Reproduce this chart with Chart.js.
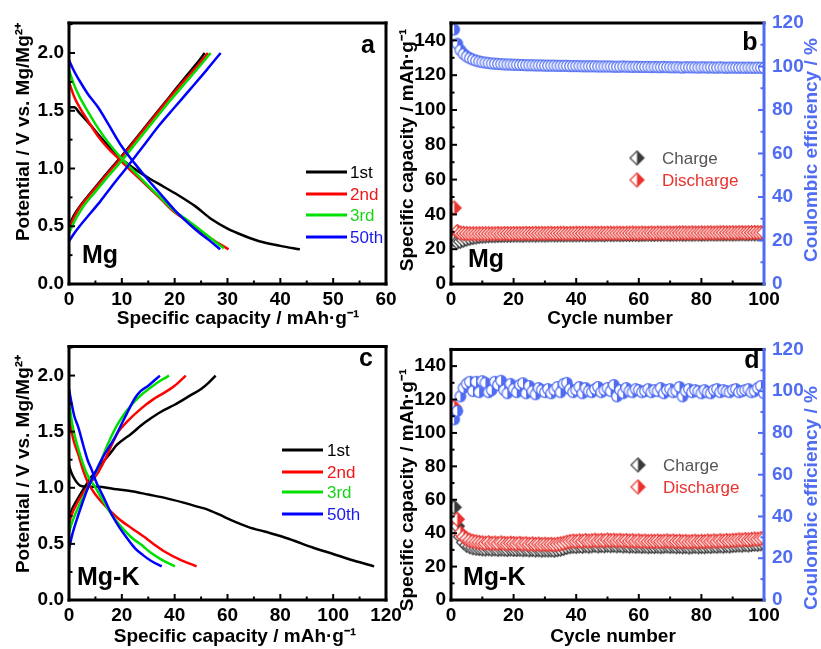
<!DOCTYPE html>
<html>
<head>
<meta charset="utf-8">
<script src="https://cdn.jsdelivr.net/npm/chart.js@4.4.1/dist/chart.umd.min.js"></script>
<style>
  body { margin: 0; background: #fff; width: 821px; height: 649px; position: relative; overflow: hidden; }
  canvas { position: absolute; }
</style>
</head>
<body>
<canvas id="chartA" width="410" height="330" style="left:0;top:0;width:410px;height:330px"></canvas>
<canvas id="chartB" width="426" height="330" style="left:395px;top:0;width:426px;height:330px"></canvas>
<canvas id="chartC" width="410" height="319" style="left:0;top:330px;width:410px;height:319px"></canvas>
<canvas id="chartD" width="426" height="319" style="left:395px;top:330px;width:426px;height:319px"></canvas>
<script>
// ---- data: galvanostatic curves, [capacity mAh/g, potential V] ----
const curveLabels = ['1st', '2nd', '3rd', '50th'];

const mgCharge1 = [[0,0.50],[1,0.60],[2,0.67],[3,0.73],[5,0.84],[7,0.95],[10,1.11],[13,1.28],[16,1.45],[19,1.62],[22,1.79],[24,1.90],[25.7,2.0]];
const mgCharge2 = [[0,0.48],[1,0.58],[2,0.66],[3,0.72],[5,0.83],[7,0.94],[10,1.10],[13,1.27],[16,1.44],[19,1.61],[22,1.77],[24.5,1.90],[26.3,2.0]];
const mgCharge3 = [[0,0.44],[1,0.54],[2,0.62],[3,0.69],[5,0.80],[7,0.91],[10,1.07],[13,1.24],[16,1.41],[19,1.58],[22,1.74],[24.8,1.89],[26.8,2.0]];
const mgCharge50 = [[0,0.37],[1,0.44],[2,0.50],[4,0.61],[6,0.72],[8,0.84],[10.6,0.99],[14,1.19],[17,1.37],[20,1.53],[23,1.69],[26,1.85],[28.7,2.0]];
const mgDis1 = [[0,1.53],[1,1.53],[2,1.48],[4,1.38],[6,1.27],[8,1.17],[10,1.08],[12,1.01],[15,0.92],[18,0.84],[21,0.76],[24,0.67],[27,0.56],[30,0.48],[33,0.42],[36,0.37],[40,0.33],[43.7,0.30]];
const mgDis2 = [[0,1.75],[1,1.62],[2,1.53],[3.5,1.42],[5.5,1.28],[7.5,1.17],[9.3,1.09],[12,0.97],[15,0.84],[17.5,0.73],[20,0.62],[22.5,0.54],[24.5,0.47],[27,0.39],[30.2,0.30]];
const mgDis3 = [[0,1.85],[1,1.72],[2,1.62],[3.5,1.50],[5.5,1.35],[7.5,1.22],[9.5,1.11],[12,0.99],[15,0.85],[17.5,0.74],[20,0.63],[22.5,0.55],[24.5,0.48],[27,0.39],[29.3,0.31]];
const mgDis50 = [[0,1.94],[1,1.84],[2,1.76],[3.5,1.65],[5.5,1.53],[7.5,1.38],[10,1.19],[12.5,1.04],[15,0.90],[17.5,0.77],[20,0.64],[22.5,0.53],[24.5,0.45],[26.5,0.38],[28.6,0.30]];

const mgkCharge1 = [[0,0.72],[1,0.80],[3,0.89],[5,0.97],[8.6,1.10],[11,1.17],[13.6,1.25],[16,1.32],[18,1.38],[20,1.42],[23.5,1.48],[27.5,1.56],[31,1.62],[35,1.68],[40,1.74],[46.4,1.83],[50,1.88],[53,1.94],[55.5,2.0]];
const mgkCharge2 = [[0,0.68],[1,0.76],[3,0.86],[5,0.94],[8,1.04],[11.1,1.14],[14,1.27],[16.5,1.40],[18.7,1.50],[22,1.59],[27.5,1.71],[32,1.79],[36.3,1.85],[40,1.91],[44.2,2.0]];
const mgkCharge3 = [[0,0.60],[1,0.68],[3,0.80],[5,0.90],[8,1.04],[11,1.18],[14.9,1.40],[18,1.55],[21,1.66],[23.7,1.74],[27,1.82],[31.3,1.90],[35,1.96],[37.9,2.0]];
const mgkCharge50 = [[0,0.45],[1,0.56],[3,0.72],[5,0.86],[7,0.99],[9.8,1.13],[13,1.28],[17.4,1.45],[21,1.62],[25,1.80],[27,1.86],[30,1.91],[34.4,2.0]];
const mgkDis1 = [[0,1.20],[1,1.13],[2.3,1.07],[4.2,1.02],[7,1.01],[11,1.01],[17,0.99],[23.7,0.97],[30,0.94],[36.3,0.91],[43,0.87],[48.9,0.83],[52,0.81],[57,0.76],[61.6,0.71],[68,0.65],[74,0.61],[80,0.57],[85,0.53],[92,0.47],[100,0.41],[108,0.35],[115.5,0.30]];
const mgkDis2 = [[0,1.65],[1,1.50],[2,1.40],[3.5,1.30],[5,1.18],[7.3,1.04],[10,0.94],[12.5,0.87],[14.9,0.81],[19,0.72],[23.7,0.64],[28,0.57],[32,0.50],[36.3,0.43],[42,0.36],[48.3,0.30]];
const mgkDis3 = [[0,1.77],[1,1.60],[2,1.48],[3.5,1.35],[5.5,1.20],[7.5,1.09],[9.8,1.01],[12,0.92],[14.5,0.82],[17.4,0.72],[21,0.62],[24,0.55],[27.5,0.49],[31,0.42],[35,0.36],[40.1,0.30]];
const mgkDis50 = [[0,1.88],[1,1.75],[2,1.64],[3.5,1.54],[5.5,1.37],[7,1.25],[8.6,1.16],[10.5,1.04],[13,0.92],[16.2,0.76],[19,0.65],[22,0.55],[25,0.46],[28,0.40],[31,0.35],[35.1,0.30]];

// ---- data: cycling, cycles 1..100 ----
const cycles = Array.from({ length: 100 }, (_, i) => i + 1);

const chargeMg = [
  25.5,24.0,24.5,25.2,25.8,26.3,26.7,27.0,27.3,27.5,
  27.6,27.7,27.8,27.8,27.9,27.9,28.0,28.0,28.0,28.1,
  28.1,28.1,28.0,28.2,28.1,28.2,28.1,28.2,28.2,28.1,
  28.2,28.3,28.2,28.2,28.3,28.2,28.3,28.3,28.2,28.3,
  28.3,28.4,28.3,28.3,28.4,28.3,28.4,28.4,28.3,28.6,
  28.4,28.4,28.5,28.4,28.4,28.5,28.4,28.5,28.5,28.4,
  28.5,28.5,28.6,28.5,28.5,28.6,28.5,28.6,28.6,28.5,
  28.6,28.6,28.7,28.6,28.6,28.7,28.6,28.7,28.7,28.6,
  28.7,28.7,28.8,28.7,28.7,28.8,28.7,28.8,28.8,28.7,
  28.8,28.8,28.9,28.8,28.8,28.9,28.8,28.9,28.9,28.8];
const dischargeMg = [
  43.7,30.2,29.3,29.1,29.0,28.9,28.9,28.9,28.9,28.9,
  28.9,28.9,28.9,28.9,29.0,28.9,29.0,29.0,28.9,29.0,
  29.0,29.0,29.0,29.1,29.0,29.0,29.1,29.0,29.1,29.0,
  29.1,29.1,29.0,29.1,29.1,29.1,29.0,29.1,29.1,29.2,
  29.1,29.1,29.2,29.1,29.1,29.2,29.1,29.2,29.1,29.2,
  29.2,29.1,29.2,29.2,29.1,29.2,29.2,29.3,29.2,29.2,
  29.3,29.2,29.2,29.3,29.2,29.3,29.3,29.2,29.3,29.3,
  29.2,29.3,29.3,29.4,29.3,29.3,29.4,29.3,29.3,29.4,
  29.3,29.4,29.4,29.3,29.4,29.4,29.5,29.4,29.4,29.5,
  29.4,29.5,29.5,29.4,29.5,29.5,29.6,29.5,29.5,29.6];
const ceMg = [
  117.0,110.5,107.5,105.8,104.6,103.8,103.2,102.7,102.3,102.0,
  101.8,101.6,101.4,101.3,101.2,101.1,101.0,100.9,100.9,100.8,
  100.8,100.7,100.7,100.6,100.6,100.6,100.5,100.5,100.5,100.4,
  100.4,100.4,100.4,100.3,100.3,100.3,100.3,100.2,100.2,100.2,
  100.2,100.1,100.1,100.1,100.1,100.1,100.0,100.0,100.0,100.0,
  100.0,99.9,99.9,99.9,100.0,99.9,99.9,99.8,99.9,99.8,
  99.8,99.8,99.8,99.7,99.8,99.7,99.7,99.8,99.7,99.7,
  99.6,99.7,99.6,99.5,99.7,99.6,99.6,99.6,99.5,99.6,
  99.6,99.5,99.6,99.5,99.5,99.6,99.5,99.4,99.5,99.5,
  99.5,99.4,99.5,99.4,99.5,99.4,99.4,99.5,99.4,99.3];

const chargeMgK = [
  55.5,44.2,37.9,34.5,32.8,31.9,31.3,31.0,30.8,30.6,
  30.5,30.7,30.4,30.6,30.3,30.5,30.4,30.2,30.5,30.3,
  30.2,30.4,30.1,30.3,30.0,30.2,29.9,30.1,29.8,30.0,
  29.9,30.0,29.8,30.1,30.4,30.9,31.5,31.9,32.2,32.0,
  32.3,32.1,32.5,32.2,32.4,32.7,32.3,32.6,32.4,32.8,
  32.5,32.7,32.4,32.6,32.3,32.5,32.2,32.4,32.1,32.3,
  32.0,32.2,31.9,32.1,32.0,32.2,31.9,32.1,32.3,32.0,
  32.2,31.9,32.1,31.8,32.0,31.7,31.9,32.1,31.8,32.0,
  31.9,32.2,32.0,32.3,32.1,32.4,32.2,32.5,32.3,32.6,
  32.7,32.9,32.8,33.1,32.9,33.2,33.4,33.3,33.6,33.9];
const dischargeMgK = [
  115.5,48.3,40.1,37.8,36.6,35.8,35.2,34.8,34.5,34.2,
  34.0,34.3,33.9,34.1,33.8,34.2,33.9,33.7,34.0,33.8,
  33.6,33.9,33.5,33.7,33.4,33.6,33.3,33.5,33.2,33.4,
  33.2,33.3,33.1,33.4,33.6,34.0,34.6,35.0,35.3,35.1,
  35.4,35.2,35.6,35.3,35.5,35.8,35.4,35.7,35.5,35.9,
  35.6,35.8,35.5,35.7,35.4,35.6,35.3,35.5,35.2,35.4,
  35.1,35.3,35.0,35.2,35.1,35.3,35.0,35.2,35.4,35.1,
  35.3,35.0,35.2,34.9,35.1,34.8,35.0,35.2,34.9,35.1,
  35.0,35.3,35.1,35.4,35.2,35.5,35.3,35.6,35.4,35.7,
  35.8,36.0,35.9,36.2,36.0,36.3,36.5,36.4,36.7,37.0];
const ceMgK = [
  86.5,90.5,97.5,101.5,103.5,104.5,100.0,104.5,99.5,104.8,
  104.0,99.5,100.5,104.5,103.0,105.0,100.5,99.0,103.5,101.0,
  99.5,103.0,103.8,99.0,102.5,100.0,98.5,101.5,100.5,99.5,
  101.0,99.0,100.5,102.0,99.5,103.5,104.0,101.0,99.5,100.5,
  102.0,99.0,101.5,100.0,99.5,101.0,102.0,99.5,100.5,101.5,
  100.0,103.0,97.5,100.5,99.0,101.5,100.0,99.5,101.0,100.5,
  99.5,100.0,101.0,99.5,100.5,100.0,101.5,99.0,100.5,101.0,
  99.5,100.0,102.0,97.5,100.0,101.0,99.5,100.5,100.0,99.0,
  100.5,99.5,99.0,100.5,101.0,99.5,100.5,100.0,99.5,100.5,
  101.0,99.5,100.0,100.5,101.0,99.5,100.0,101.5,102.5,99.0];

// ---- styling ----
const FONT = "'Liberation Sans', Arial, Helvetica, sans-serif";
const curveColors = ['#000000', '#ff0000', '#00e000', '#0000ff'];
const curveTextColors = ['#000000', '#f01818', '#18d418', '#1818f0'];
const ceBlue = '#4f6cf2';
const chargeGray = '#3a3a3a';
const dischargeRed = '#e8332f';
const tickFont = { family: FONT, size: 19, weight: 'bold' };

function halfMarker(shape, color, r) {
  const c = document.createElement('canvas');
  const s = Math.ceil(r * 2 + 3);
  c.width = s; c.height = s;
  const g = c.getContext('2d');
  const m = s / 2;
  const path = () => {
    g.beginPath();
    if (shape === 'diamond') {
      g.moveTo(m, m - r); g.lineTo(m + r, m); g.lineTo(m, m + r); g.lineTo(m - r, m); g.closePath();
    } else {
      g.arc(m, m, r, 0, Math.PI * 2);
    }
  };
  path(); g.fillStyle = '#fff'; g.fill();
  g.save(); g.beginPath(); g.rect(m, 0, m, s); g.clip();
  path(); g.fillStyle = color; g.fill();
  g.restore();
  path(); g.lineWidth = 1.2; g.strokeStyle = color; g.stroke();
  return c;
}

const chargeMark = halfMarker('diamond', chargeGray, 7);
const dischargeMark = halfMarker('diamond', dischargeRed, 7);
const ceMark = halfMarker('circle', ceBlue, 5.3);

// frame, inward ticks, labels and legends
const panelPlugin = {
  id: 'panel',
  afterDatasetsDraw(chart, args, o) {
    const g = chart.ctx, ca = chart.chartArea;
    g.save();
    o.ticks.forEach(t => {
      const sc = chart.scales[t.id];
      g.strokeStyle = t.color;
      g.lineWidth = 2;
      const n = Math.floor(sc.max / t.minor + 1e-6);
      for (let i = 1; i <= n; i++) {
        const p = sc.getPixelForValue(i * t.minor);
        const len = (i % t.every === 0) ? 6 : 3.5;
        g.beginPath();
        if (t.side === 'left') { g.moveTo(ca.left, p); g.lineTo(ca.left + len, p); }
        else if (t.side === 'right') { g.moveTo(ca.right, p); g.lineTo(ca.right - len, p); }
        else { g.moveTo(p, ca.bottom); g.lineTo(p, ca.bottom - len); }
        g.stroke();
      }
    });

    g.lineWidth = 3;
    g.lineCap = 'square';
    const seg = (x1, y1, x2, y2, c) => {
      g.strokeStyle = c; g.beginPath(); g.moveTo(x1, y1); g.lineTo(x2, y2); g.stroke();
    };
    seg(ca.left, ca.top, ca.right, ca.top, '#000');
    seg(ca.left, ca.bottom, ca.right, ca.bottom, '#000');
    seg(ca.left, ca.top, ca.left, ca.bottom, '#000');
    seg(ca.right, ca.top, ca.right, ca.bottom, o.rightColor);

    o.texts.forEach(t => {
      g.save();
      g.font = t.font + ' ' + FONT;
      g.fillStyle = t.color;
      g.translate(t.x, t.y);
      if (t.rot) {
        g.rotate(-Math.PI / 2);
        g.textAlign = 'center';
        g.textBaseline = 'middle';
      } else {
        g.textAlign = t.align;
        g.textBaseline = 'alphabetic';
      }
      g.fillText(t.text, 0, 0);
      g.restore();
    });

    if (o.lineLegend) {
      const L = o.lineLegend;
      g.font = '17px ' + FONT;
      g.textAlign = 'left';
      g.textBaseline = 'middle';
      g.lineWidth = 3;
      g.lineCap = 'butt';
      L.ys.forEach((y, i) => {
        g.strokeStyle = curveColors[i];
        g.beginPath(); g.moveTo(L.x0, y); g.lineTo(L.x1, y); g.stroke();
        g.fillStyle = curveTextColors[i];
        g.fillText(curveLabels[i], L.tx, y + 1);
      });
    }

    if (o.markLegend) {
      const M = o.markLegend;
      g.font = '17px ' + FONT;
      g.textAlign = 'left';
      g.textBaseline = 'middle';
      M.items.forEach((it, i) => {
        const ds = chart.data.datasets[it.ds];
        const img = ds.pointStyle;
        g.drawImage(img, M.mx - img.width / 2, M.ys[i] - img.height / 2);
        g.fillStyle = it.color;
        g.fillText(ds.label, M.tx, M.ys[i] + 1);
      });
    }
    g.restore();
  }
};

function curveSet(list) {
  const out = [];
  list.forEach((pts, k) => {
    const i = k % 4;
    out.push({
      label: curveLabels[i],
      data: pts.map(p => ({ x: p[0], y: p[1] })),
      showLine: true,
      borderColor: curveColors[i],
      backgroundColor: curveColors[i],
      borderWidth: 2.5,
      pointRadius: 0,
      cubicInterpolationMode: 'monotone',
      order: 4 - i
    });
  });
  return out;
}

function curveChart(id, datasets, xMax, padTop, xHeight, panel) {
  return new Chart(document.getElementById(id), {
    type: 'scatter',
    data: { datasets: datasets },
    options: {
      responsive: false,
      animation: false,
      events: [],
      layout: { padding: { top: padTop, right: 24, left: 0, bottom: 0 } },
      plugins: { legend: { display: false }, tooltip: { enabled: false }, panel: panel },
      scales: {
        x: {
          type: 'linear', min: 0, max: xMax,
          grid: { display: false, drawTicks: false }, border: { display: false },
          ticks: { stepSize: xMax / 6, includeBounds: false, font: tickFont, color: '#000', padding: 4, maxRotation: 0 },
          afterFit: s => { s.height = xHeight; }
        },
        y: {
          type: 'linear', min: 0, max: 2.26,
          grid: { display: false, drawTicks: false }, border: { display: false },
          ticks: { stepSize: 0.5, includeBounds: false, font: tickFont, color: '#000', padding: 5,
                   callback: v => v.toFixed(1) },
          afterFit: s => { s.width = 69; }
        }
      }
    },
    plugins: [panelPlugin]
  });
}

function cycleChart(id, charge, discharge, ce, padTop, xHeight, panel) {
  return new Chart(document.getElementById(id), {
    type: 'scatter',
    data: {
      datasets: [
        { label: 'Charge', data: cycles.map((c, i) => ({ x: c, y: charge[i] })), yAxisID: 'y',
          pointStyle: chargeMark, pointRadius: 7, order: 3 },
        { label: 'Discharge', data: cycles.map((c, i) => ({ x: c, y: discharge[i] })), yAxisID: 'y',
          pointStyle: dischargeMark, pointRadius: 7, order: 2 },
        { label: 'CE', data: cycles.map((c, i) => ({ x: c, y: ce[i] })), yAxisID: 'y1',
          pointStyle: ceMark, pointRadius: 5, order: 1 }
      ]
    },
    options: {
      responsive: false,
      animation: false,
      events: [],
      layout: { padding: { top: padTop, right: 0, left: 0, bottom: 0 } },
      plugins: { legend: { display: false }, tooltip: { enabled: false }, panel: panel },
      scales: {
        x: {
          type: 'linear', min: 0, max: 100,
          grid: { display: false, drawTicks: false }, border: { display: false },
          ticks: { stepSize: 20, includeBounds: false, font: tickFont, color: '#000', padding: 4, maxRotation: 0 },
          afterFit: s => { s.height = xHeight; }
        },
        y: {
          type: 'linear', position: 'left', min: 0, max: 150,
          grid: { display: false, drawTicks: false }, border: { display: false },
          ticks: { stepSize: 20, includeBounds: false, font: tickFont, color: '#000', padding: 5 },
          afterFit: s => { s.width = 56; }
        },
        y1: {
          type: 'linear', position: 'right', min: 0, max: 120,
          grid: { display: false, drawTicks: false }, border: { display: false },
          ticks: { stepSize: 20, includeBounds: false, font: tickFont, color: ceBlue, padding: 8 },
          afterFit: s => { s.width = 57; }
        }
      }
    },
    plugins: [panelPlugin]
  });
}

const xCapTitle = 'Specific capacity / mAh\u00b7g\u207b\u00b9';
const yPotTitle = 'Potential / V vs. Mg/Mg\u00b2\u207a';
const ceTitle = 'Coulombic efficiency / %';

curveChart('chartA',
  curveSet([mgCharge1, mgCharge2, mgCharge3, mgCharge50, mgDis1, mgDis2, mgDis3, mgDis50]),
  60, 23, 46, {
    rightColor: '#000',
    ticks: [
      { id: 'x', side: 'bottom', minor: 5, every: 2, color: '#000' },
      { id: 'y', side: 'left', minor: 0.25, every: 2, color: '#000' }
    ],
    texts: [
      { text: 'a', x: 368, y: 53, font: 'bold 25px', color: '#000', align: 'center' },
      { text: 'Mg', x: 82, y: 263, font: 'bold 25px', color: '#000', align: 'left' },
      { text: xCapTitle, x: 238, y: 324, font: 'bold 19px', color: '#000', align: 'center' },
      { text: yPotTitle, x: 24, y: 132, font: 'bold 19px', color: '#000', rot: true }
    ],
    lineLegend: { x0: 306, x1: 347, tx: 350, ys: [172, 194, 215, 237] }
  });

cycleChart('chartB', chargeMg, dischargeMg, ceMg, 23, 46, {
  rightColor: ceBlue,
  ticks: [
    { id: 'x', side: 'bottom', minor: 10, every: 2, color: '#000' },
    { id: 'y', side: 'left', minor: 10, every: 2, color: '#000' },
    { id: 'y1', side: 'right', minor: 10, every: 2, color: ceBlue }
  ],
  texts: [
    { text: 'b', x: 355, y: 50, font: 'bold 25px', color: '#000', align: 'center' },
    { text: 'Mg', x: 73, y: 267, font: 'bold 25px', color: '#000', align: 'left' },
    { text: 'Cycle number', x: 215, y: 324, font: 'bold 19px', color: '#000', align: 'center' },
    { text: xCapTitle, x: 13, y: 150, font: 'bold 19px', color: '#000', rot: true },
    { text: ceTitle, x: 417, y: 150, font: 'bold 19px', color: ceBlue, rot: true }
  ],
  markLegend: { mx: 242, tx: 267, ys: [158, 180],
    items: [{ ds: 0, color: '#555555' }, { ds: 1, color: dischargeRed }] }
});

curveChart('chartC',
  curveSet([mgkCharge1, mgkCharge2, mgkCharge3, mgkCharge50, mgkDis1, mgkDis2, mgkDis3, mgkDis50]),
  120, 10, 49, {
    rightColor: '#000',
    ticks: [
      { id: 'x', side: 'bottom', minor: 10, every: 2, color: '#000' },
      { id: 'y', side: 'left', minor: 0.25, every: 2, color: '#000' }
    ],
    texts: [
      { text: 'c', x: 366, y: 36, font: 'bold 25px', color: '#000', align: 'center' },
      { text: 'Mg-K', x: 77, y: 255, font: 'bold 25px', color: '#000', align: 'left' },
      { text: xCapTitle, x: 235, y: 312, font: 'bold 19px', color: '#000', align: 'center' },
      { text: yPotTitle, x: 24, y: 134, font: 'bold 19px', color: '#000', rot: true }
    ],
    lineLegend: { x0: 282, x1: 323, tx: 327, ys: [120, 142, 162, 184] }
  });

cycleChart('chartD', chargeMgK, dischargeMgK, ceMgK, 11, 49, {
  rightColor: ceBlue,
  ticks: [
    { id: 'x', side: 'bottom', minor: 10, every: 2, color: '#000' },
    { id: 'y', side: 'left', minor: 10, every: 2, color: '#000' },
    { id: 'y1', side: 'right', minor: 10, every: 2, color: ceBlue }
  ],
  texts: [
    { text: 'd', x: 357, y: 38, font: 'bold 25px', color: '#000', align: 'center' },
    { text: 'Mg-K', x: 68, y: 255, font: 'bold 25px', color: '#000', align: 'left' },
    { text: 'Cycle number', x: 218, y: 312, font: 'bold 19px', color: '#000', align: 'center' },
    { text: xCapTitle, x: 13, y: 160, font: 'bold 19px', color: '#000', rot: true },
    { text: ceTitle, x: 417, y: 168, font: 'bold 19px', color: ceBlue, rot: true }
  ],
  markLegend: { mx: 243, tx: 268, ys: [135, 157],
    items: [{ ds: 0, color: '#555555' }, { ds: 1, color: dischargeRed }] }
});
</script>
</body>
</html>
